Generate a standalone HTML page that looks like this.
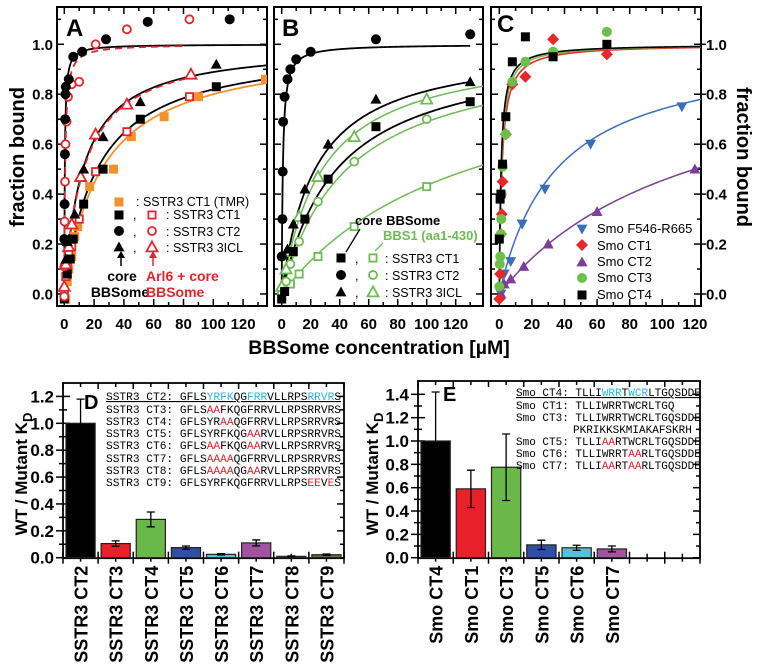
<!DOCTYPE html>
<html><head><meta charset="utf-8">
<style>
html,body{margin:0;padding:0;background:#fff;}
svg{display:block;font-family:"Liberation Sans",Arial,sans-serif;}
.tk{font-weight:bold;font-size:15px;}
.mono{font-family:"Liberation Mono",monospace;font-size:11.2px;}
.monoE{font-family:"Liberation Mono",monospace;font-size:11px;}
.r{fill:#e0262e;} .c{fill:#29b6e6;}
</style></head>
<body>
<svg id="fig" width="758" height="666" viewBox="0 0 758 666">
<defs>
<clipPath id="clipA"><rect x="57" y="7" width="210" height="299"/></clipPath>
<clipPath id="clipB"><rect x="274" y="7" width="209" height="299"/></clipPath>
<clipPath id="clipC"><rect x="491" y="7" width="210" height="299"/></clipPath>
</defs>
<g id="axes"></g>
<g id="marks"></g>
<text x="66" y="36" font-size="24" font-weight="bold">A</text>
<text x="282" y="36" font-size="24" font-weight="bold">B</text>
<text x="497" y="32" font-size="24" font-weight="bold">C</text>
<text transform="translate(24,157) rotate(-90)" text-anchor="middle" font-size="20" font-weight="bold">fraction bound</text>
<text transform="translate(737,157) rotate(90)" text-anchor="middle" font-size="20" font-weight="bold">fraction bound</text>
<text x="379" y="354" text-anchor="middle" font-size="19.5" font-weight="bold">BBSome concentration [µM]</text>

<g font-size="12.5">
<text x="136" y="206">: SSTR3 CT1 (TMR)</text>
<text x="133" y="219">,</text><text x="166" y="219">: SSTR3 CT1</text>
<text x="133" y="236">,</text><text x="166" y="236">: SSTR3 CT2</text>
<text x="133" y="252">,</text><text x="166" y="252">: SSTR3 3ICL</text>
<text x="122" y="281" text-anchor="middle" font-weight="bold" font-size="14">core</text>
<text x="120" y="297" text-anchor="middle" font-weight="bold" font-size="14">BBSome</text>
<text x="146" y="281" font-weight="bold" font-size="14" fill="#e0262e">Arl6 + core</text>
<text x="146" y="297" font-weight="bold" font-size="14" fill="#e0262e">BBSome</text>
<line x1="121" y1="266" x2="121" y2="256" stroke="#000" stroke-width="1.5"/>
<path d="M117,258 L121,251 L125,258Z" fill="#000"/>
<line x1="153" y1="266" x2="153" y2="256" stroke="#e0262e" stroke-width="1.5"/>
<path d="M149,258 L153,251 L157,258Z" fill="#e0262e"/>
</g>
<g font-size="12.5">
<text x="355" y="225" font-weight="bold" font-size="13">core BBSome</text>
<text x="383" y="240" font-weight="bold" font-size="13" fill="#6dbb55">BBS1 (aa1-430)</text>
<line x1="360" y1="229" x2="346" y2="252" stroke="#000" stroke-width="1.3"/>
<line x1="383" y1="243" x2="375" y2="251" stroke="#6dbb55" stroke-width="1.3"/>
<text x="355" y="263">,</text><text x="385" y="263">: SSTR3 CT1</text>
<text x="355" y="280">,</text><text x="385" y="280">: SSTR3 CT2</text>
<text x="355" y="297">,</text><text x="385" y="297">: SSTR3 3ICL</text>
</g>
<g font-size="13">
<text x="597" y="233">Smo F546-R665</text>
<text x="597" y="250">Smo CT1</text>
<text x="597" y="266">Smo CT2</text>
<text x="597" y="282">Smo CT3</text>
<text x="597" y="299">Smo CT4</text>
</g>

<text x="84" y="409" font-size="20" font-weight="bold">D</text>
<text x="443" y="401" font-size="20" font-weight="bold">E</text>
<text transform="translate(27,474) rotate(-90)" text-anchor="middle" font-size="17" font-weight="bold">WT / Mutant K<tspan font-size="13" dy="5">D</tspan></text>
<text transform="translate(378,474) rotate(-90)" text-anchor="middle" font-size="17" font-weight="bold">WT / Mutant K<tspan font-size="13" dy="5">D</tspan></text>

<g class="mono">
<text x="106" y="400" text-decoration="underline">SSTR3 CT2: GFLS<tspan class="c">YRFK</tspan>QG<tspan class="c">FRR</tspan>VLLRPS<tspan class="c">RRVR</tspan>S</text>
<text x="106" y="413">SSTR3 CT3: GFLS<tspan class="r">AA</tspan>FKQGFRRVLLRPSRRVRS</text>
<text x="106" y="425">SSTR3 CT4: GFLSYR<tspan class="r">AA</tspan>QGFRRVLLRPSRRVRS</text>
<text x="106" y="437">SSTR3 CT5: GFLSYRFKQG<tspan class="r">AA</tspan>RVLLRPSRRVRS</text>
<text x="106" y="449">SSTR3 CT6: GFLS<tspan class="r">AA</tspan>FKQG<tspan class="r">AA</tspan>RVLLRPSRRVRS</text>
<text x="106" y="462">SSTR3 CT7: GFLS<tspan class="r">AAAA</tspan>QGFRRVLLRPSRRVRS</text>
<text x="106" y="474">SSTR3 CT8: GFLS<tspan class="r">AAAA</tspan>QG<tspan class="r">AA</tspan>RVLLRPSRRVRS</text>
<text x="106" y="486">SSTR3 CT9: GFLSYRFKQGFRRVLLRPS<tspan class="r">EE</tspan>V<tspan class="r">E</tspan>S</text>
</g>
<g class="monoE">
<text x="516" y="396" text-decoration="underline">Smo CT4: TLLI<tspan class="c">WRR</tspan>T<tspan class="c">WCR</tspan>LTGQSDDE</text>
<text x="516" y="409">Smo CT1: TLLIWRRTWCRLTGQ</text>
<text x="516" y="421">Smo CT3: TLLIWRRTWCRLTGQSDDE</text>
<text x="573" y="433">PKRIKKSKMIAKAFSKRH</text>
<text x="516" y="445">Smo CT5: TLLI<tspan class="r">AA</tspan>RTWCRLTGQSDDE</text>
<text x="516" y="457">Smo CT6: TLLIWRRT<tspan class="r">AA</tspan>RLTGQSDDE</text>
<text x="516" y="469">Smo CT7: TLLI<tspan class="r">AA</tspan>RT<tspan class="r">AA</tspan>RLTGQSDDE</text>
</g>
</svg>
<script>
// ---- Panel A data ----
const aOrangeSqX=[1,2,3,5,7,9,17,33,45,67,90,135];
const aOrangeSqY=[-0.02,0.05,0.1,0.15,0.23,0.27,0.43,0.5,0.63,0.71,0.79,0.86];
const aBlackSqX=[0,2,4,6,13,26,51,102];
const aBlackSqY=[-0.02,0.08,0.14,0.22,0.36,0.5,0.7,0.83];
const aRedSqX=[0,1,2,3,5,10,21,42,84];
const aRedSqY=[0,0.07,0.11,0.16,0.19,0.3,0.49,0.65,0.79];
const aBlackCiX=[0,0.2,0.4,0.6,0.8,1,3,6,12,28,56,111];
const aBlackCiY=[0.22,0.36,0.56,0.7,0.8,0.83,0.86,0.95,0.97,1.02,1.09,1.1];
const aRedCiX=[0,0,0.2,0.5,0.8,1.5,2.5,5,10,21,42,84];
const aRedCiY=[-0.01,0.11,0.29,0.45,0.6,0.69,0.79,0.84,0.85,1.0,1.06,1.1];
const aBlackTrX=[1,2,3,7,13,26,51,102];
const aBlackTrY=[0.14,0.21,0.22,0.32,0.5,0.63,0.77,0.92];
const aRedTrX=[0,1,3,5,11,21,42,85];
const aRedTrY=[0.03,0.12,0.19,0.28,0.47,0.64,0.76,0.88];
const aFitKd=[0.35,0.6,12.5,13,22,25];
const aFitBmax=[1.0,1.0,1.0,1.0,1.0,1.0];
const aFitXmax=[136,82,136,85,136,136];
// ---- Panel B data ----
const bBlackCiX=[0,0.5,0.7,1,2,4,6,10,20,65,130];
const bBlackCiY=[0.15,0.3,0.49,0.69,0.79,0.86,0.9,0.94,0.97,1.02,1.04];
const bBlackTrX=[4,8,16,32,65,130];
const bBlackTrY=[0.18,0.28,0.42,0.6,0.78,0.85];
const bBlackSqX=[0,2,8,16,32,65,130];
const bBlackSqY=[-0.02,0.01,0.17,0.3,0.46,0.67,0.77];
const bGreenTrX=[0,3,6,12,25,50,100];
const bGreenTrY=[0.03,0.1,0.17,0.31,0.47,0.63,0.78];
const bGreenCiX=[0,3,6,12,25,50,100];
const bGreenCiY=[0,0.05,0.12,0.21,0.37,0.53,0.7];
const bGreenSqX=[0,6,12,25,50,100];
const bGreenSqY=[-0.01,0.04,0.08,0.15,0.27,0.43];
const bFitKd=[0.8,23,38,28,45,130];
const bFitBmax=[1.0,1.0,1.0,1.0,1.0,1.0];
// ---- Panel C data ----
const cBlueX=[1,3,7,14,28,56,112];
const cBlueY=[0.0,0.08,0.13,0.28,0.42,0.6,0.75];
const cPurpleX=[1,3,7,15,30,60,120];
const cPurpleY=[0,0.04,0.06,0.11,0.2,0.33,0.5];
const cRedX=[0,0.5,1,1.5,2,4,8,16,33,66];
const cRedY=[-0.02,0.08,0.24,0.32,0.45,0.64,0.84,0.87,1.02,0.96];
const cGreenX=[0,0.3,0.6,1,1.2,1.5,2,4,8,16,33,66];
const cGreenY=[0.03,0.12,0.15,0.24,0.3,0.4,0.51,0.64,0.85,0.93,0.97,1.05];
const cBlackX=[0,0.5,1,2,4,8,16,33,66];
const cBlackY=[0.22,0.38,0.4,0.52,0.71,0.93,1.03,0.95,1.0];
const cFitKd=[35,120,1.6,1.3,1.1];
const cFitBmax=[1.0,1.0,1.0,1.0,1.0];
// ---- Panel D/E data ----
const dCats=["SSTR3 CT2","SSTR3 CT3","SSTR3 CT4","SSTR3 CT5","SSTR3 CT6","SSTR3 CT7","SSTR3 CT8","SSTR3 CT9"];
const dVals=[1.0,0.105,0.285,0.075,0.025,0.11,0.01,0.022];
const dErr=[0.18,0.02,0.055,0.012,0.005,0.022,0.003,0.005];
const dColors=["#000000","#e8202a","#6ab84a","#2f4f9f","#5bbfd8","#a054a0","#5a5a2e","#6b6b3a"];
const eCats=["Smo CT4","Smo CT1","Smo CT3","Smo CT5","Smo CT6","Smo CT7"];
const eVals=[1.0,0.59,0.775,0.11,0.085,0.075];
const eErr=[0.42,0.16,0.285,0.04,0.022,0.025];
const eColors=["#000000","#e8202a","#6ab84a","#2f4f9f","#5bbfd8","#a054a0"];

const NS="http://www.w3.org/2000/svg";
const axesG=document.getElementById('axes');
const marksG=document.getElementById('marks');
function mk(tag,attrs,parent){const e=document.createElementNS(NS,tag);for(const k in attrs)e.setAttribute(k,attrs[k]);(parent||marksG).appendChild(e);return e;}

const yTop=(v)=>294-v*249.7;
const panels={
 A:{x0:64.3,k:1.49,L:57,R:267},
 B:{x0:281.7,k:1.45,L:274,R:483},
 C:{x0:499.3,k:1.63,L:491,R:701}
};
function xs(p,v){return panels[p].x0+v*panels[p].k;}

for(const p of ['A','B','C']){
  const P=panels[p];
  const r=mk('rect',{x:P.L,y:7,width:P.R-P.L,height:299,fill:'none',stroke:'#000','stroke-width':2},axesG);
  
  
  for(let i=0;i<=11;i++){
    const v=i/10;const y=yTop(v);const major=i%2===0;const len=major?7:4;
    mk('line',{x1:P.L,x2:P.L+len,y1:y,y2:y,stroke:'#000','stroke-width':1.5},axesG);
    mk('line',{x1:P.R,x2:P.R-len,y1:y,y2:y,stroke:'#000','stroke-width':1.5},axesG);
    if(p==='C'&&major){mk('line',{x1:P.R,x2:P.R+5,y1:y,y2:y,stroke:'#000','stroke-width':1.5},axesG);}
  }
  for(let v=0;v<=140;v+=10){
    const x=xs(p,v); if(x>P.R-1)continue;
    const major=v%20===0;const len=major?7:4;
    mk('line',{x1:x,x2:x,y1:306,y2:306-len,stroke:'#000','stroke-width':1.5},axesG);
    mk('line',{x1:x,x2:x,y1:7,y2:7+len,stroke:'#000','stroke-width':1.5},axesG);
    if(major&&v<=120){
      const t=mk('text',{x:x,y:329,'text-anchor':'middle',class:'tk'},axesG);t.textContent=v;
      
      
    }
  }
}
for(let i=0;i<=5;i++){
  const v=i*0.2;
  const t=mk('text',{x:53,y:yTop(v)+5.5,'text-anchor':'end',class:'tk','font-size':16},axesG);t.textContent=v.toFixed(1);
  
  
  const t2=mk('text',{x:706,y:yTop(v)+5.5,'text-anchor':'start',class:'tk','font-size':16},axesG);t2.textContent=v.toFixed(1);
  
  
}

function sym(type,x,y,color,filled,parent,s){
  s=s||1;let e;
  const st=filled?{fill:color,stroke:'none'}:{fill:'#fff',stroke:color,'stroke-width':1.8};
  if(type==='sq'){const h=(filled?4.5:3.6)*s;e=mk('rect',Object.assign({x:x-h,y:y-h,width:2*h,height:2*h},st),parent);}
  else if(type==='ci'){e=mk('circle',Object.assign({cx:x,cy:y,r:(filled?5:4)*s},st),parent);}
  else if(type==='tr'){const h=5.5*s;e=mk('path',Object.assign({d:'M'+x+','+(y-h)+' L'+(x+h)+','+(y+h*0.8)+' L'+(x-h)+','+(y+h*0.8)+'Z'},st),parent);}
  else if(type==='dt'){const h=5.5*s;e=mk('path',Object.assign({d:'M'+x+','+(y+h)+' L'+(x+h)+','+(y-h*0.8)+' L'+(x-h)+','+(y-h*0.8)+'Z'},st),parent);}
  else if(type==='di'){const h=6*s;e=mk('path',Object.assign({d:'M'+x+','+(y-h)+' L'+(x+h)+','+y+' L'+x+','+(y+h)+' L'+(x-h)+','+y+'Z'},st),parent);}
  return e;
}
function series(p,X,Y,type,color,filled,name){
  const g=mk('g',{'clip-path':'url(#clip'+p+')'});
  
  
  for(let i=0;i<X.length;i++){
    const e=sym(type,xs(p,X[i]),yTop(Y[i]),color,filled,g);
    
    
  }
}
function curve(p,kd,bmax,xmax,color,dash,name,w){
  const pts=[];
  for(let i=0;i<=300;i++){const t=i/300;const v=xmax*t*t;pts.push(xs(p,v).toFixed(2)+','+yTop(bmax*v/(kd+v)).toFixed(2));}
  const e=mk('polyline',{points:pts.join(' '),fill:'none',stroke:color,'stroke-width':w||1.8,'clip-path':'url(#clip'+p+')'});
  if(dash)e.setAttribute('stroke-dasharray',dash);
  
  
}
const OR='#f0922e',RD='#e0262e',GB='#6dbb55';
curve('A',aFitKd[5],aFitBmax[5],aFitXmax[5],OR,null,'fit-a-ct1-tmr');
curve('A',aFitKd[4],aFitBmax[4],aFitXmax[4],'#000',null,'fit-a-ct1');
curve('A',aFitKd[2],aFitBmax[2],aFitXmax[2],'#000',null,'fit-a-3icl');
curve('A',aFitKd[3],aFitBmax[3],aFitXmax[3],RD,'7,5','fit-a-3icl-arl6');
curve('A',aFitKd[0],aFitBmax[0],aFitXmax[0],'#000',null,'fit-a-ct2');
curve('A',aFitKd[1],aFitBmax[1],aFitXmax[1],RD,'7,5','fit-a-ct2-arl6');
series('A',aOrangeSqX,aOrangeSqY,'sq',OR,true,'a-ct1-tmr');
series('A',aRedSqX,aRedSqY,'sq',RD,false,'a-ct1-arl6');
series('A',aBlackSqX,aBlackSqY,'sq','#000',true,'a-ct1');
series('A',aRedCiX,aRedCiY,'ci',RD,false,'a-ct2-arl6');
series('A',aBlackCiX,aBlackCiY,'ci','#000',true,'a-ct2');
series('A',aRedTrX,aRedTrY,'tr',RD,false,'a-3icl-arl6');
series('A',aBlackTrX,aBlackTrY,'tr','#000',true,'a-3icl');
curve('B',bFitKd[3],bFitBmax[3],140,GB,null,'fit-b-3icl-bbs1',1.5);
curve('B',bFitKd[4],bFitBmax[4],140,GB,null,'fit-b-ct2-bbs1',1.5);
curve('B',bFitKd[5],bFitBmax[5],140,GB,null,'fit-b-ct1-bbs1',1.5);
curve('B',bFitKd[0],bFitBmax[0],130,'#000',null,'fit-b-ct2');
curve('B',bFitKd[1],bFitBmax[1],130,'#000',null,'fit-b-3icl');
curve('B',bFitKd[2],bFitBmax[2],130,'#000',null,'fit-b-ct1');
series('B',bGreenSqX,bGreenSqY,'sq',GB,false,'b-ct1-bbs1');
series('B',bGreenCiX,bGreenCiY,'ci',GB,false,'b-ct2-bbs1');
series('B',bGreenTrX,bGreenTrY,'tr',GB,false,'b-3icl-bbs1');
series('B',bBlackSqX,bBlackSqY,'sq','#000',true,'b-ct1');
series('B',bBlackCiX,bBlackCiY,'ci','#000',true,'b-ct2');
series('B',bBlackTrX,bBlackTrY,'tr','#000',true,'b-3icl');
const BL='#3a6fb8',PU='#7b3f98',RC='#e8272a',GC='#6cc04a';
curve('C',cFitKd[0],cFitBmax[0],125,BL,null,'fit-c-f546',1.5);
curve('C',cFitKd[1],cFitBmax[1],125,PU,null,'fit-c-ct2',1.5);
curve('C',cFitKd[2],cFitBmax[2],125,RC,null,'fit-c-ct1',1.6);
curve('C',cFitKd[3],cFitBmax[3],125,GC,null,'fit-c-ct3',1.6);
curve('C',cFitKd[4],cFitBmax[4],125,'#000',null,'fit-c-ct4',1.6);
series('C',cBlueX,cBlueY,'dt',BL,true,'c-f546');
series('C',cPurpleX,cPurpleY,'tr',PU,true,'c-ct2');
series('C',cRedX,cRedY,'di',RC,true,'c-ct1');
series('C',cGreenX,cGreenY,'ci',GC,true,'c-ct3');
series('C',cBlackX,cBlackY,'sq','#000',true,'c-ct4');
function lsym(type,x,y,c,f,n){const e=sym(type,x,y,c,f,marksG);}
lsym('sq',119,202,OR,true,'legend-a-tmr-symbol');
lsym('sq',119,215,'#000',true,'legend-a-ct1-symbol');
lsym('sq',152,215,RD,false,'legend-a-ct1-arl6-symbol');
lsym('ci',119,231,'#000',true,'legend-a-ct2-symbol');
lsym('ci',152,231,RD,false,'legend-a-ct2-arl6-symbol');
lsym('tr',119,247,'#000',true,'legend-a-3icl-symbol');
lsym('tr',152,247,RD,false,'legend-a-3icl-arl6-symbol');
lsym('sq',341,258,'#000',true,'legend-b-ct1-symbol');
lsym('sq',373,258,GB,false,'legend-b-ct1-bbs1-symbol');
lsym('ci',341,275,'#000',true,'legend-b-ct2-symbol');
lsym('ci',373,275,GB,false,'legend-b-ct2-bbs1-symbol');
lsym('tr',341,292,'#000',true,'legend-b-3icl-symbol');
lsym('tr',373,292,GB,false,'legend-b-3icl-bbs1-symbol');
lsym('dt',582,229,BL,true,'legend-c-f546-symbol');
lsym('di',582,245,RC,true,'legend-c-ct1-symbol');
lsym('tr',582,262,PU,true,'legend-c-ct2-symbol');
lsym('ci',582,278,GC,true,'legend-c-ct3-symbol');
lsym('sq',582,295,'#000',true,'legend-c-ct4-symbol');

function barChart(id,L,R,top,y0,pxPerUnit,maxV,cats,vals,errs,cols,nCat){
  const g=mk('g',{},marksG);
  
  
  const yv=v=>y0-v*pxPerUnit;
  const fr=mk('rect',{x:L,y:top,width:R-L,height:y0-top+0.5,fill:'none',stroke:'#000','stroke-width':1.8},g);
  
  
  for(let i=0;i*0.1<=maxV+0.001;i++){
    const y=yv(i*0.1);if(y<top)continue;const maj=i%2===0;const len=maj?7:4;
    mk('line',{x1:L-len,x2:L+len,y1:y,y2:y,stroke:'#000','stroke-width':1.5},g);
    mk('line',{x1:R-len,x2:R,y1:y,y2:y,stroke:'#000','stroke-width':1.5},g);
    if(maj){const t=mk('text',{x:L-9,y:y+6,'text-anchor':'end','font-size':17,'font-weight':'bold'},g);t.textContent=(i*0.1).toFixed(1);
      
      }
  }
  const cw=(R-L)/nCat;
  for(let i=0;i<=2*nCat;i++){const x=L+i*cw/2;const len=(i%2===0)?6:4;
    mk('line',{x1:x,x2:x,y1:y0-len,y2:y0+len,stroke:'#000','stroke-width':1.5},g);
    mk('line',{x1:x,x2:x,y1:top,y2:top+len,stroke:'#000','stroke-width':1.5},g);}
  for(let i=0;i<cats.length;i++){
    const cx=L+cw*(i+0.5);const bw=cw*0.83;
    const b=mk('rect',{x:cx-bw/2,y:yv(vals[i]),width:bw,height:vals[i]*pxPerUnit,fill:cols[i],stroke:'#222','stroke-width':1.2},g);
    
    
    const e1=yv(vals[i]+errs[i]),e2=yv(vals[i]-errs[i]);
    const eb=mk('path',{d:'M'+cx+','+e1+'V'+e2+'M'+(cx-4)+','+e1+'H'+(cx+4)+'M'+(cx-4)+','+e2+'H'+(cx+4),stroke:'#000','stroke-width':1.3,fill:'none'},g);
    
    
    const t=mk('text',{transform:'translate('+(cx+7)+','+(y0+8)+') rotate(-90)','text-anchor':'end','font-size':18,'font-weight':'bold'},g);
    t.textContent=cats[i];
    
    
  }
}
barChart('d',63,344,383,557.7,134.4,1.2,dCats,dVals,dErr,dColors,8);
barChart('e',418,700,381,557.7,116.7,1.4,eCats,eVals,eErr,eColors,8);
</script>
</body></html>
